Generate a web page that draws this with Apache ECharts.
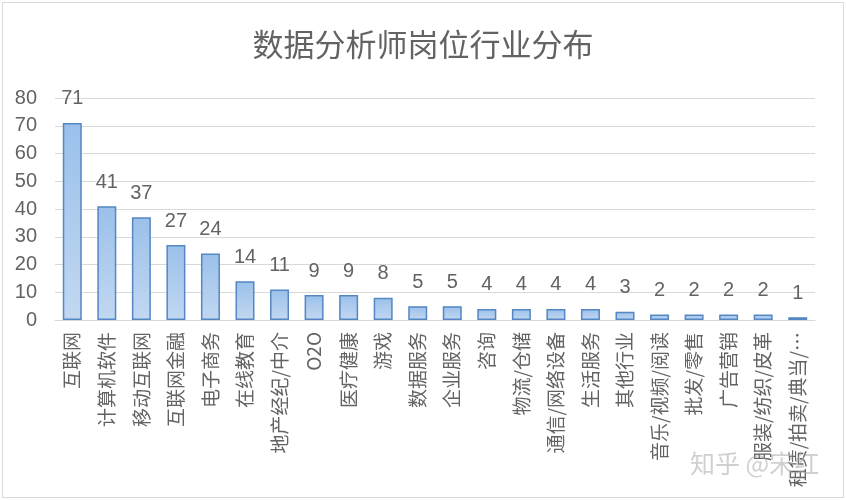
<!DOCTYPE html>
<html>
<head>
<meta charset="utf-8">
<script src="https://cdn.jsdelivr.net/npm/echarts@6/dist/echarts.min.js"></script>
<style>
html,body{margin:0;padding:0;background:#fff;}
#c{width:846px;height:500px;}
</style>
</head>
<body>
<div id="c"></div>
<script>
const categories = ['互联网','计算机软件','移动互联网','互联网金融','电子商务','在线教育','地产经纪/中介','O2O','医疗健康','游戏','数据服务','企业服务','咨询','物流/仓储','通信/网络设备','生活服务','其他行业','音乐/视频/阅读','批发/零售','广告营销','服装/纺织/皮革','租赁/拍卖/典当/…'];
const counts = [71,41,37,27,24,14,11,9,9,8,5,5,4,4,4,4,3,2,2,2,2,1];
const yTicks = [0,10,20,30,40,50,60,70,80];

const chart = echarts.init(document.getElementById('c'), null, {renderer:'canvas'});
const font = '"Noto Sans CJK SC", "Liberation Sans", sans-serif';
const txt = '#636363';
chart.setOption({
  backgroundColor:'#fff',
  animation:false,
  title:{
    text:'数据分析师岗位行业分布',
    left:'center', top:24,
    textStyle:{fontSize:31, fontWeight:'normal', color:txt, fontFamily:font}
  },
  grid:{left:55, right:31, top:98, bottom:180, containLabel:false},
  xAxis:{
    type:'category',
    data:categories,
    axisLine:{lineStyle:{color:'#d9d9d9'}},
    axisTick:{show:false},
    axisLabel:{rotate:90, interval:0, color:txt, fontSize:19, margin:12, fontFamily:font}
  },
  yAxis:{
    type:'value', min:yTicks[0], max:yTicks[yTicks.length-1], interval:10,
    axisLine:{show:false}, axisTick:{show:false},
    splitLine:{lineStyle:{color:'#d9d9d9'}},
    axisLabel:{color:txt, fontSize:20, margin:18, fontFamily:'"Liberation Sans", sans-serif'}
  },
  series:[{
    type:'bar',
    data:counts,
    barWidth:'55%',
    itemStyle:{
      color:new echarts.graphic.LinearGradient(0,0,0,1,[{offset:0,color:'#9bc0ea'},{offset:1,color:'#c2d8f1'}]),
      borderColor:'#5487c3', borderWidth:1.5
    },
    label:{show:true, position:'top', distance:14, color:txt, fontSize:20, fontFamily:'"Liberation Sans", sans-serif'}
  }],
  graphic:[
    {type:'rect', shape:{x:2.5,y:2.5,width:841,height:495}, style:{fill:'none', stroke:'#d9d9d9', lineWidth:1}, silent:true, z:-1},
    {type:'text', left:690, top:451, style:{text:'知乎 @宋红', fill:'rgba(170,170,170,0.55)', font:'25px "Noto Sans CJK SC", sans-serif'}, z:100}
  ]
});
</script>
</body>
</html>
